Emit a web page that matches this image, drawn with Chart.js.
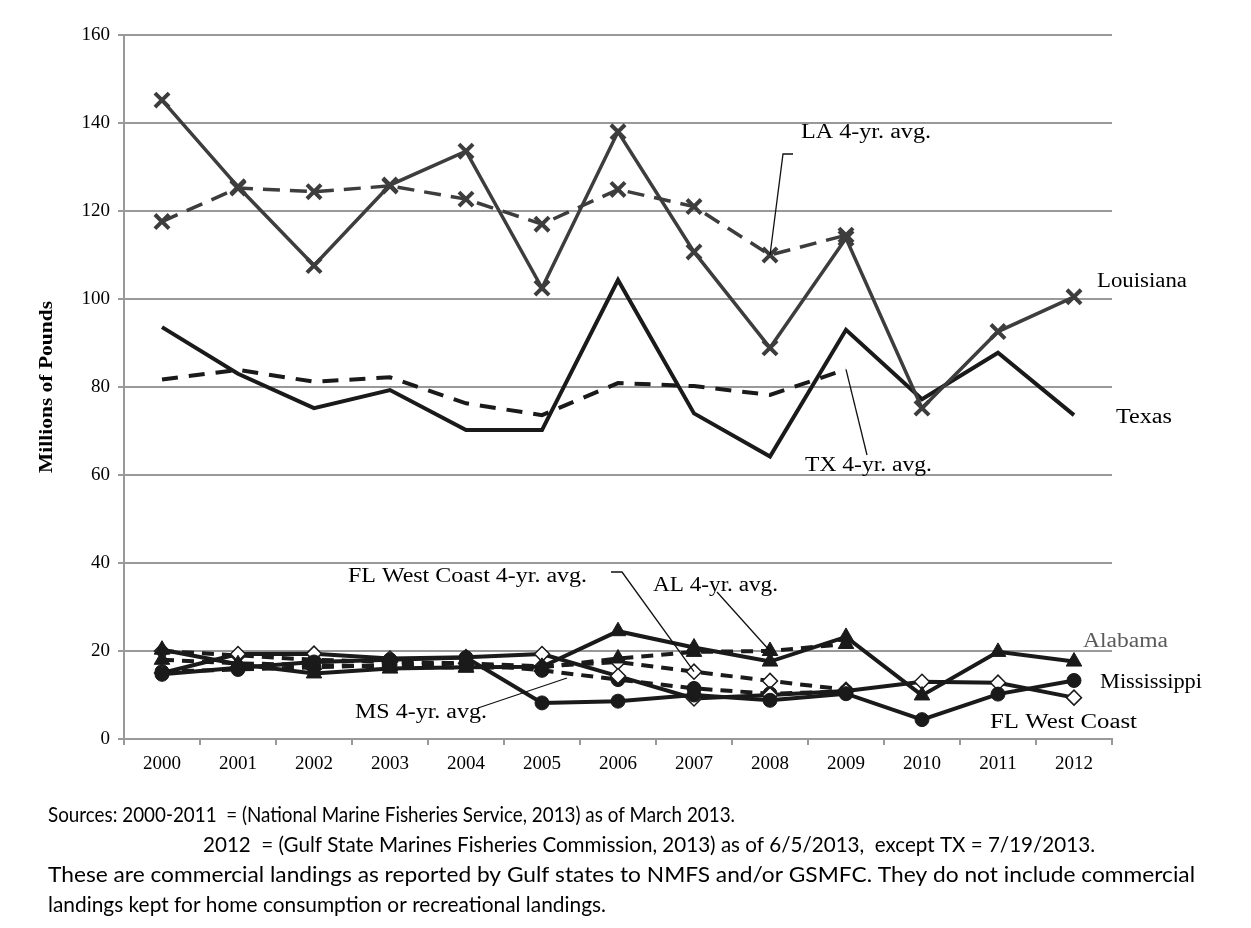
<!DOCTYPE html>
<html><head><meta charset="utf-8">
<script src="https://cdn.jsdelivr.net/npm/chart.js@4/dist/chart.umd.min.js"></script>
<style>html,body{margin:0;padding:0;background:#fff;}canvas{display:block;}</style>
</head><body>
<canvas id="c" width="1251" height="928"></canvas>
<script>
const years = ['2000','2001','2002','2003','2004','2005','2006','2007','2008','2009','2010','2011','2012'];
const yTicks = [0,20,40,60,80,100,120,140,160];
const louisiana = [145.2,125.5,107.6,125.9,133.6,102.5,138.0,110.7,88.9,113.8,75.2,92.6,100.5];
const laAvg     = [117.6,125.2,124.4,125.7,122.7,117.0,124.9,121.0,110.0,114.5];
const texas     = [93.6,83.0,75.2,79.3,70.2,70.2,104.3,74.0,64.2,93.0,77.2,87.8,73.6];
const txAvg     = [81.7,83.9,81.2,82.2,76.3,73.6,80.9,80.2,78.2,84.0];
const alabama   = [20.3,17.0,14.9,16.0,16.3,16.4,24.5,20.8,17.6,23.2,9.9,19.8,17.6];
const alAvg     = [18.0,17.2,16.8,16.5,16.2,16.3,18.3,19.8,20.0,21.6];
const mississippi = [14.7,16.2,17.5,18.0,18.5,8.2,8.6,10.0,8.8,10.3,4.4,10.2,13.3];
const msAvg     = [15.3,15.8,16.3,16.8,17.2,15.6,13.5,11.5,10.3,10.8];
const flwc      = [15.0,19.3,19.4,18.3,18.6,19.3,14.3,9.2,10.0,10.9,13.0,12.8,9.4];
const flwcAvg   = [20.0,19.0,18.0,17.5,17.2,16.5,17.5,15.3,13.2,11.2];

const serif = '"Liberation Serif","Times New Roman",serif';
const LAC = '#3d3d3d', BK = '#1a1a1a';

function ds(label, data, color, opts) {
  return Object.assign({label, data, borderColor: color, backgroundColor: color,
    pointBorderColor: color, pointBackgroundColor: color, borderWidth: 4, tension: 0,
    pointRadius: 0, pointHoverRadius: 0, fill: false}, opts);
}
const datasets = [
  ds('Louisiana', louisiana, LAC, {borderWidth: 3.5, pointStyle: 'crossRot', pointRadius: 10, pointBorderWidth: 4}),
  ds('LA 4-yr. avg.', laAvg, LAC, {borderWidth: 3.5, borderDash: [17,10], pointStyle: 'crossRot', pointRadius: 10, pointBorderWidth: 4}),
  ds('Texas', texas, BK, {borderWidth: 4}),
  ds('TX 4-yr. avg.', txAvg, BK, {borderWidth: 4, borderDash: [16,11]}),
  ds('Alabama', alabama, BK, {pointStyle: 'triangle', pointRadius: 9, pointBorderWidth: 1}),
  ds('Mississippi', mississippi, BK, {pointStyle: 'circle', pointRadius: 7, pointBorderWidth: 1}),
  ds('FL West Coast', flwc, BK, {pointStyle: 'rectRot', pointRadius: 7.5, pointBorderWidth: 1.5, pointBackgroundColor: '#fff'}),
  ds('AL 4-yr. avg.', alAvg, BK, {borderDash: [12,8], pointStyle: 'triangle', pointRadius: 9, pointBorderWidth: 1}),
  ds('MS 4-yr. avg.', msAvg, BK, {borderDash: [12,8], pointStyle: 'circle', pointRadius: 7, pointBorderWidth: 1}),
  ds('FL West Coast 4-yr. avg.', flwcAvg, BK, {borderDash: [12,8], pointStyle: 'rectRot', pointRadius: 7.5, pointBorderWidth: 1.5, pointBackgroundColor: '#fff'})
];

function fitText(ctx, txt, x, y, font, width, color) {
  ctx.save();
  ctx.font = font; ctx.fillStyle = color || '#000';
  ctx.textBaseline = 'middle'; ctx.textAlign = 'left';
  const w = ctx.measureText(txt).width;
  ctx.translate(x, y); ctx.scale(width / w, 1);
  ctx.fillText(txt, 0, 0);
  ctx.restore();
}
function line(ctx, pts) {
  ctx.beginPath(); ctx.moveTo(pts[0][0], pts[0][1]);
  for (let i = 1; i < pts.length; i++) ctx.lineTo(pts[i][0], pts[i][1]);
  ctx.stroke();
}

const annot = {
  id: 'annot',
  afterDraw(chart) {
    const ctx = chart.ctx, xs = chart.scales.x, ys = chart.scales.y;
    const P = (i, v) => [xs.getPixelForValue(i), ys.getPixelForValue(v)];
    const f = '20px ' + serif;
    ctx.save();
    ctx.strokeStyle = '#111'; ctx.lineWidth = 1.3;
    const la = P(8, laAvg[8]);
    line(ctx, [[793,154],[783,154],la]);
    const tx = P(9, txAvg[9]);
    line(ctx, [tx,[867,455]]);
    const fl = P(7, flwcAvg[7]);
    line(ctx, [[611,572],[622,572],fl]);
    const al = P(8, alAvg[8]);
    line(ctx, [[717,592],al]);
    line(ctx, [[478,708],[567,678]]);
    ctx.restore();
    fitText(ctx, 'LA 4-yr. avg.', 801, 133, f, 130);
    fitText(ctx, 'Louisiana', 1097, 282, f, 90);
    fitText(ctx, 'Texas', 1116, 418, f, 56);
    fitText(ctx, 'TX 4-yr. avg.', 805, 466, f, 127);
    fitText(ctx, 'FL West Coast 4-yr. avg.', 348, 577, f, 239);
    fitText(ctx, 'AL 4-yr. avg.', 653, 586, f, 125);
    fitText(ctx, 'MS 4-yr. avg.', 355, 713, f, 132);
    fitText(ctx, 'Alabama', 1083, 642, f, 85, '#5a5a5a');
    fitText(ctx, 'Mississippi', 1100, 683, f, 102);
    fitText(ctx, 'FL West Coast', 990, 723, f, 147);
    ctx.save();
    ctx.translate(47, 387); ctx.rotate(-Math.PI/2);
    ctx.font = 'bold 19px ' + serif;
    const t = 'Millions of Pounds';
    const w = ctx.measureText(t).width;
    ctx.scale(172 / w, 1);
    ctx.textAlign = 'center'; ctx.textBaseline = 'middle'; ctx.fillStyle = '#000';
    ctx.fillText(t, 0, 0);
    ctx.restore();
    const ff = '22px Lato, "Open Sans", sans-serif';
    fitText(ctx, 'Sources: 2000-2011  = (National Marine Fisheries Service, 2013) as of March 2013.', 48, 815, ff, 687);
    fitText(ctx, '2012  = (Gulf State Marines Fisheries Commission, 2013) as of 6/5/2013,  except TX = 7/19/2013.', 203, 845, ff, 892);
    fitText(ctx, 'These are commercial landings as reported by Gulf states to NMFS and/or GSMFC. They do not include commercial', 48, 875, ff, 1147);
    fitText(ctx, 'landings kept for home consumption or recreational landings.', 48, 905, ff, 558);
  }
};

new Chart(document.getElementById('c'), {
  type: 'line',
  data: {labels: years, datasets},
  options: {
    responsive: false, animation: false, devicePixelRatio: 1,
    layout: {padding: {left: 0, top: 35, right: 139, bottom: 149}},
    plugins: {legend: {display: false}, tooltip: {enabled: false}},
    scales: {
      x: {
        offset: true,
        grid: {offset: true, drawOnChartArea: false, drawTicks: true, tickLength: 6, color: '#999', lineWidth: 2},
        border: {display: true, color: '#999', width: 2},
        ticks: {font: {family: serif, size: 19}, color: '#000', padding: 8, maxRotation: 0, autoSkip: false},
        afterFit: s => { s.height = 40; }
      },
      y: {
        min: 0, max: 160,
        afterBuildTicks: s => { s.ticks = yTicks.map(v => ({value: v})); },
        grid: {color: '#999', lineWidth: 2, tickLength: 6},
        border: {display: true, color: '#999', width: 2},
        ticks: {font: {family: serif, size: 19}, color: '#000', padding: 8},
        afterFit: s => { s.width = 124; }
      }
    }
  },
  plugins: [annot]
});
</script>
</body></html>
